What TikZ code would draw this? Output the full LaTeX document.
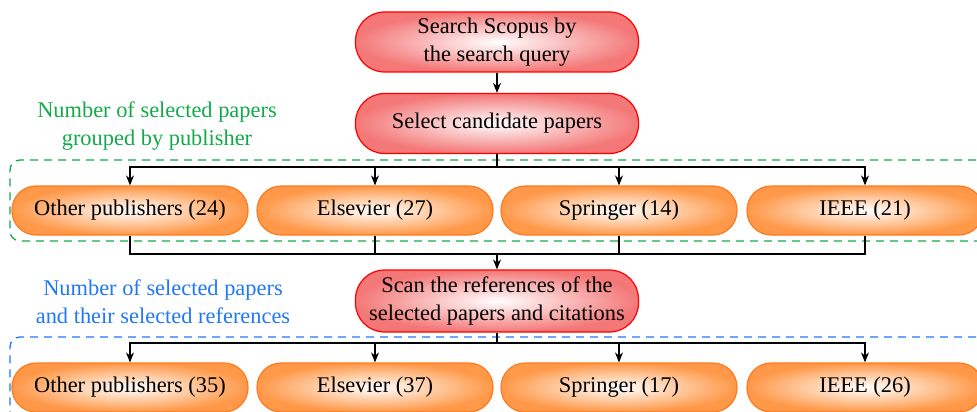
\documentclass[tikz,border=0pt]{standalone}
\usepackage{fontspec}
\setmainfont{Liberation Serif}
\usetikzlibrary{arrows.meta}
\definecolor{stagered}{HTML}{F47878}
\definecolor{pubor}{HTML}{FF9848}
\definecolor{publine}{HTML}{FF7A1E}
\definecolor{grpgreen}{HTML}{12AA48}
\definecolor{grpblue}{HTML}{1F78F5}
\begin{document}
\begin{tikzpicture}[x=1pt,y=-1pt,
	every node/.style={font=\fontsize{22.4}{28}\selectfont,align=center,inner sep=0pt},
	stage/.style={draw=red,line width=1.2pt,inner color=white,outer color=stagered,minimum width=283pt,minimum height=60pt,rounded corners=29pt},
	pub/.style={draw=publine,line width=1.2pt,inner color=white,outer color=pubor,minimum width=236pt,minimum height=49pt,rounded corners=24pt},
	group/.style={dash pattern=on 8pt off 6pt,line width=1.3pt,rounded corners=10pt},
	link/.style={line width=1.2pt,-{Stealth[length=10pt,width=8pt]}}]
	\useasboundingbox (0,0) rectangle (977,412);
	\draw[group,grpgreen] (990,160) -- (10,160) -- (10,241) -- (990,241);
	\draw[group,grpblue] (990,337) -- (10,337) -- (10,430);
	\node[stage] (search) at (497,42) {Search Scopus by\\the search query};
	\node[stage] (select) at (497,123.5) {Select candidate papers};
	\node[stage,minimum height=62pt] (scan) at (497,301) {Scan the references of the\\selected papers and citations};
	\node[text=grpgreen] (grplabel) at (157,126) {Number of selected papers\\grouped by publisher};
	\node[text=grpblue] (reflabel) at (163,302) {Number of selected papers\\and their selected references};
	\node[pub] (other) at (130,210.5) {Other publishers (24)};
	\node[pub] (elsevier) at (375,210.5) {Elsevier (27)};
	\node[pub] (springer) at (619,210.5) {Springer (14)};
	\node[pub] (ieee) at (865,210.5) {IEEE (21)};
	\node[pub] (otherref) at (130,387.5) {Other publishers (35)};
	\node[pub] (elsevierref) at (375,387.5) {Elsevier (37)};
	\node[pub] (springerref) at (619,387.5) {Springer (17)};
	\node[pub] (ieeeref) at (865,387.5) {IEEE (26)};
	\coordinate (split) at (497,167);
	\coordinate (merge) at (497,254);
	\coordinate (splitref) at (497,343);
	\draw[link] (search) -- (select);
	\draw[line width=1.2pt] (select.south) -- (split);
	\foreach \n in {other,elsevier,springer,ieee}
		\draw[link] (split) -| (\n.north);
	\foreach \n in {other,elsevier,springer,ieee}
		\draw[line width=1.2pt] (\n.south) |- (merge);
	\draw[link] (merge) -- (scan.north);
	\draw[line width=1.2pt] (scan.south) -- (splitref);
	\foreach \n in {otherref,elsevierref,springerref,ieeeref}
		\draw[link] (splitref) -| (\n.north);
\end{tikzpicture}
\end{document}
